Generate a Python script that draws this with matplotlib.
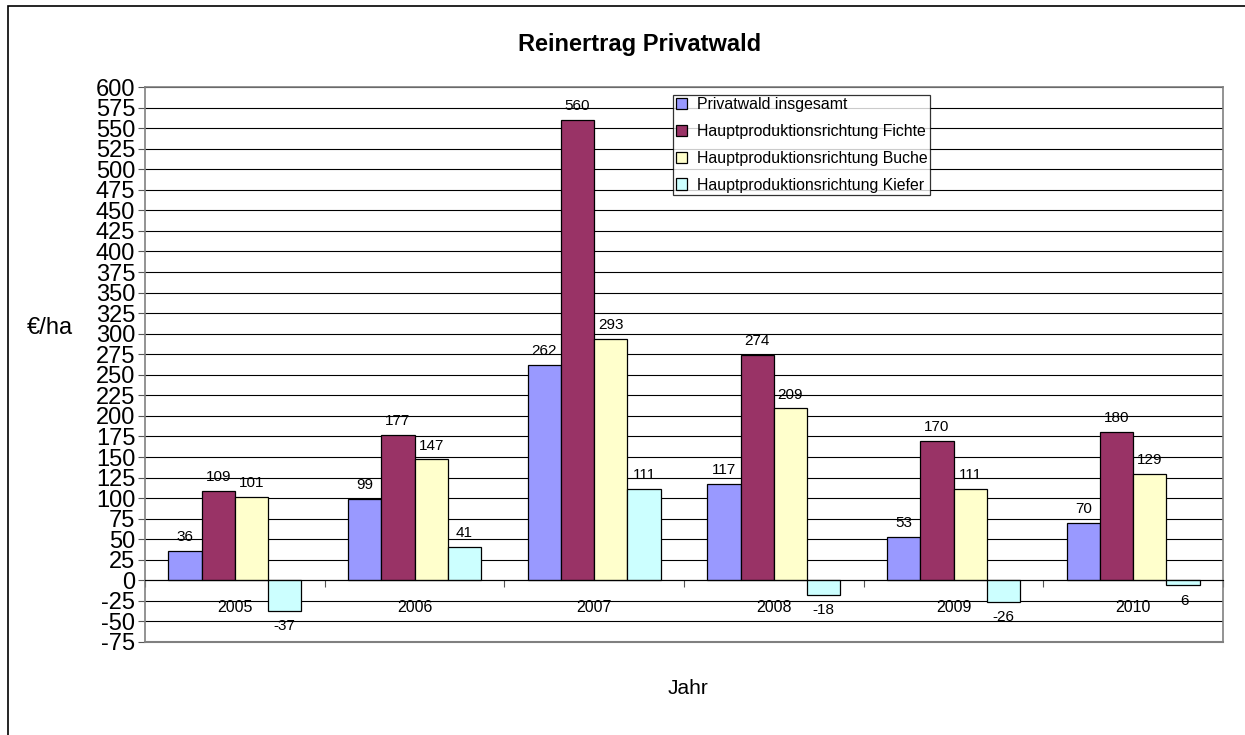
import numpy as np
import matplotlib
matplotlib.use("Agg")
import matplotlib.pyplot as plt
from matplotlib.patches import Rectangle
from matplotlib.ticker import MultipleLocator, FixedLocator

plt.rcParams['font.family'] = ['Liberation Sans', 'DejaVu Sans']
plt.rcParams['axes.unicode_minus'] = False

# Data
years = ["2005", "2006", "2007", "2008", "2009", "2010"]
series_names = ["Privatwald insgesamt",
                "Hauptproduktionsrichtung Fichte",
                "Hauptproduktionsrichtung Buche",
                "Hauptproduktionsrichtung Kiefer"]
insgesamt = [36, 99, 262, 117, 53, 70]
fichte = [109, 177, 560, 274, 170, 180]
buche = [101, 147, 293, 209, 111, 129]
kiefer = [-37, 41, 111, -18, -26, -6]
colors = ["#9999FF", "#993366", "#FFFFCC", "#CCFFFF"]

fig = plt.figure(figsize=(12.45, 7.35), dpi=100)
ax = fig.add_axes([145/1245, 1 - 642/735, (1223-145)/1245, (642-87)/735])

x = np.arange(len(years))
w = 0.185
all_series = [insgesamt, fichte, buche, kiefer]
for i, (vals, name, c) in enumerate(zip(all_series, series_names, colors)):
    pos = x + (i - 1.5) * w
    ax.bar(pos, vals, w, color=c, edgecolor="black", linewidth=0.9,
           label=name, zorder=3)
    for px, v in zip(pos, vals):
        if v >= 0:
            ax.annotate(str(v), (px, v), xytext=(0, 5), textcoords="offset points",
                        ha="center", va="bottom", fontsize=11)
        else:
            ax.annotate(str(v), (px, v), xytext=(0, -6), textcoords="offset points",
                        ha="center", va="top", fontsize=11)

ax.set_xlim(-0.5, len(years) - 0.5)
ax.set_ylim(-75, 600)
ax.yaxis.set_major_locator(MultipleLocator(25))
ax.grid(axis="y", color="black", linewidth=0.8, zorder=0)
ax.tick_params(axis="y", labelsize=17, length=5, width=0.8, color="#555555", pad=2)

# x axis sits on zero line
ax.spines["bottom"].set_position(("data", 0))
ax.spines["bottom"].set_color("black")
ax.spines["bottom"].set_zorder(4)
ax.set_xticks(x)
ax.set_xticklabels(years)
ax.xaxis.set_minor_locator(FixedLocator(np.arange(-0.5, len(years), 1.0)))
ax.tick_params(axis="x", which="major", length=0, labelsize=11.5, pad=14)
ax.tick_params(axis="x", which="minor", length=5, width=0.8, color="#555555")
for s in ["left", "right", "top"]:
    ax.spines[s].set_color("#808080")
    ax.spines[s].set_linewidth(1.2)
ax.axhline(-75, color="#808080", linewidth=1.5, zorder=2, clip_on=False)

leg = ax.legend(loc="upper left", bbox_to_anchor=(0.49, 0.986), borderaxespad=0,
                fontsize=11.4, frameon=True, fancybox=False, edgecolor="black",
                handlelength=0.75, handleheight=0.75, handletextpad=0.6,
                labelspacing=0.75, borderpad=0.15)
leg.get_frame().set_linewidth(0.9)
leg.set_zorder(5)

fig.text(640/1245, 1 - 44/735, "Reinertrag Privatwald", ha="center", va="center",
         fontsize=17, fontweight="bold")
fig.text(50/1245, 1 - 328/735, "€/ha", ha="center", va="center", fontsize=17)
fig.text(688/1245, 1 - 688/735, "Jahr", ha="center", va="center", fontsize=15)

# outer chart border (cut off on the right and bottom)
fig.patches.append(Rectangle((8/1245, -0.1), 1.2, 1.1 - 6/735, transform=fig.transFigure,
                             fill=False, edgecolor="black", linewidth=1.2))

fig.savefig("out.png", dpi=100)
